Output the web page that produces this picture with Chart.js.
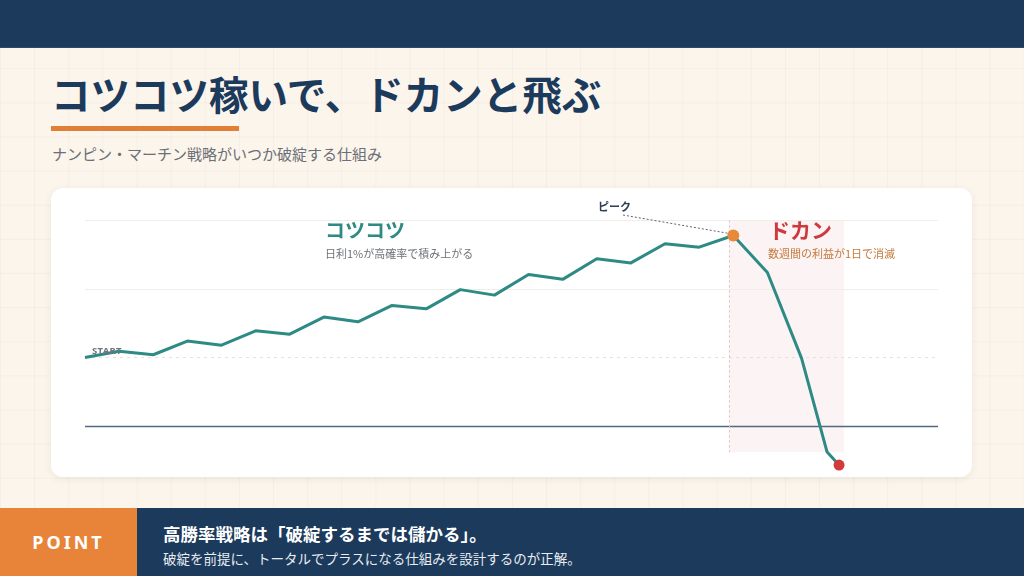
<!DOCTYPE html>
<html lang="ja">
<head>
<meta charset="utf-8">
<script src="https://cdn.jsdelivr.net/npm/chart.js@4.4.1/dist/chart.umd.min.js"></script>
<style>
  html, body { margin:0; padding:0; }
  body {
    width:1024px; height:576px; position:relative; overflow:hidden;
    font-family:"Noto Sans CJK JP","Noto Sans",sans-serif;
    background-color:#fcf5ec;
    background-image:
      linear-gradient(to right, rgba(27,58,92,0.035) 1px, transparent 1px),
      linear-gradient(to bottom, rgba(27,58,92,0.035) 1px, transparent 1px);
    background-size:34.1333px 34.1333px;
  }
  .topbar { position:absolute; left:0; top:0; width:1024px; height:47px; background:#1b3a5c; border-bottom:1px solid #2d4b6b; }
  .title { position:absolute; left:51px; top:73px; font-size:39.5px; font-weight:700; color:#1b3a5c; line-height:1; white-space:nowrap; }
  .uline { position:absolute; left:51px; top:126px; width:188px; height:5px; background:#e07f35; }
  .sub { position:absolute; left:52px; top:146px; font-size:15px; color:#6b6f76; line-height:1; white-space:nowrap; }
  .card { position:absolute; left:51px; top:188px; width:921px; height:289px; background:#fff; border-radius:12px; box-shadow:0 2px 8px rgba(60,40,20,0.07); }
  #c { position:absolute; left:51px; top:188px; width:921px; height:289px; }
  .lbl { position:absolute; line-height:1; white-space:nowrap; }
  .bottom { position:absolute; left:0; top:508px; width:1024px; height:68px; background:#1b3a5c; }
  .point { position:absolute; left:0; top:508px; width:137px; height:68px; background:#e8843a; color:#fff; font-family:"Noto Sans","Noto Sans CJK JP",sans-serif; font-weight:700; font-size:18px; letter-spacing:3px; display:flex; align-items:center; justify-content:center; }
  .p1 { position:absolute; left:163px; top:525px; color:#fff; font-size:17.5px; font-weight:700; line-height:1; white-space:nowrap; }
  .p2 { position:absolute; left:163px; top:552px; color:#e8edf2; font-size:13.5px; line-height:1; white-space:nowrap; }
</style>
</head>
<body>
<div class="topbar"></div>
<div class="title">コツコツ稼いで、ドカンと飛ぶ</div>
<div class="uline"></div>
<div class="sub">ナンピン・マーチン戦略がいつか破綻する仕組み</div>
<div class="card"></div>
<canvas id="c" width="921" height="289"></canvas>
<div class="lbl" style="left:325px;top:220px;font-size:20px;font-weight:700;color:#2e8a82;">コツコツ</div>
<div class="lbl" style="left:325px;top:248px;font-size:11px;color:#6e7278;">日利1%が高確率で積み上がる</div>
<div class="lbl" style="left:769px;top:219px;font-size:21px;font-weight:700;color:#cc3a3e;">ドカン</div>
<div class="lbl" style="left:768px;top:248px;font-size:11px;color:#c27a3c;">数週間の利益が1日で消滅</div>
<div class="lbl" style="left:598px;top:201px;font-size:11px;font-weight:700;color:#2c3e55;">ピーク</div>
<div class="lbl" style="left:92px;top:346px;font-size:9.5px;font-weight:700;color:#6f757d;font-family:'Noto Sans',sans-serif;letter-spacing:0.3px;">START</div>
<div class="bottom"></div>
<div class="point">POINT</div>
<div class="p1">高勝率戦略は「破綻するまでは儲かる」。</div>
<div class="p2">破綻を前提に、トータルでプラスになる仕組みを設計するのが正解。</div>
<script>
// ---- data ----
const days = [0,1,2,3,4,5,6,7,8,9,10,11,12,13,14,15,16,17,18,19,20,21,21.75,22.1];
const equity = [100,109,104,124,118,139,134,159,152,176,171,199,191,221,214,244,238,266,261,278,224,99,-38,-57];
const gridValues = [0,100,200,300];
const startValue = 100;
const peakIndex = 19;
const crashZone = [18.87, 22.25];
const crashZoneY = [300, -38];
const xRange = [0, 25];
const yRange = [-70, 340];

const points = days.map((d,i)=>({x:d, y:equity[i]}));
const lastIndex = equity.length - 1;

const decor = {
  id:'decor',
  beforeDatasetsDraw(chart){
    const {ctx, chartArea:a, scales:{x,y}} = chart;
    ctx.save();
    // crash zone
    const zx0 = x.getPixelForValue(crashZone[0]), zx1 = x.getPixelForValue(crashZone[1]);
    const zy0 = y.getPixelForValue(crashZoneY[0]), zy1 = y.getPixelForValue(crashZoneY[1]);
    ctx.fillStyle = 'rgba(214,70,90,0.065)';
    ctx.fillRect(zx0, zy0, zx1-zx0, zy1-zy0);
    // grid lines
    gridValues.forEach(v=>{
      const py = Math.round(y.getPixelForValue(v)) + 0.5;
      ctx.beginPath();
      if (v === 0) { ctx.strokeStyle='#52697e'; ctx.lineWidth=1.5; ctx.setLineDash([]); }
      else if (v === startValue) { ctx.strokeStyle='#e4e0da'; ctx.lineWidth=1; ctx.setLineDash([3,4]); }
      else { ctx.strokeStyle='#f1ede7'; ctx.lineWidth=1; ctx.setLineDash([]); }
      ctx.moveTo(a.left, py); ctx.lineTo(a.right, py); ctx.stroke();
    });
    // vertical dotted at crash start
    ctx.beginPath();
    ctx.strokeStyle='#ebb7bf'; ctx.lineWidth=1; ctx.setLineDash([2,3]);
    ctx.moveTo(Math.round(zx0)+0.5, zy0); ctx.lineTo(Math.round(zx0)+0.5, zy1); ctx.stroke();
    // peak leader
    const px = x.getPixelForValue(days[peakIndex]), py = y.getPixelForValue(equity[peakIndex]);
    ctx.beginPath();
    ctx.strokeStyle='#5a6470'; ctx.lineWidth=1; ctx.setLineDash([2,2]);
    ctx.moveTo(623-51, 215-188); ctx.lineTo(px-4, py-2); ctx.stroke();
    ctx.restore();
  }
};

new Chart(document.getElementById('c'), {
  type:'line',
  data:{ datasets:[{
    data: points,
    borderColor:'#2e8a84',
    borderWidth:3,
    borderJoinStyle:'round',
    tension:0,
    clip:false,
    pointRadius: c => c.dataIndex===peakIndex ? 6 : (c.dataIndex===lastIndex ? 5.5 : 0),
    pointBackgroundColor: c => c.dataIndex===peakIndex ? '#e8893a' : '#d43a3a',
    pointBorderWidth:0,
    pointHoverRadius:0
  }]},
  options:{
    responsive:false, animation:false, maintainAspectRatio:false,
    layout:{ autoPadding:false, padding:{ left:34, right:34, top:5, bottom:3 } },
    plugins:{ legend:{display:false}, tooltip:{enabled:false} },
    events:[],
    scales:{
      x:{ type:'linear', min:xRange[0], max:xRange[1], display:false },
      y:{ type:'linear', min:yRange[0], max:yRange[1], display:false }
    }
  },
  plugins:[decor]
});
</script>
</body>
</html>
